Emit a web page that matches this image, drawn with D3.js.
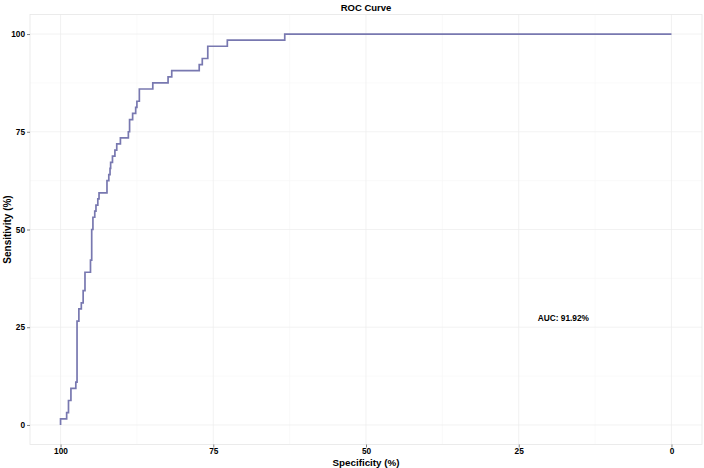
<!DOCTYPE html>
<html>
<head>
<meta charset="utf-8">
<script src="https://cdn.jsdelivr.net/npm/d3@7"></script>
<style>
  body { margin: 0; background: #fff; }
  text { font-family: "Liberation Sans", Arial, sans-serif; font-weight: bold; fill: #000; }
</style>
</head>
<body>
<div id="canvas"></div>
<script>
// roc steps: specificity where sensitivity jumps, and the sensitivity after the jump (%)
var stepSpec = [100, 99.0, 98.7, 98.3, 97.5, 97.3, 97.0, 96.6, 96.3, 96.0,
  95.1, 94.9, 94.7, 94.4, 94.2, 93.9, 93.7, 92.4, 92.1, 91.9,
  91.8, 91.5, 91.1, 90.8, 90.2, 88.9, 88.7, 88.2, 87.7, 87.5,
  87.1, 84.9, 82.4, 81.8, 77.3, 76.8, 75.9, 72.7, 63.3];
var stepSens = [1.56, 3.13, 6.25, 9.38, 10.94, 26.56, 29.69, 31.25, 34.38, 39.06,
  42.19, 50, 53.13, 54.69, 56.25, 57.81, 59.38, 62.5, 64.06, 65.63,
  67.19, 68.75, 70.31, 71.88, 73.44, 75, 78.13, 79.69, 81.25, 82.81,
  85.94, 87.5, 89.06, 90.63, 92.19, 93.75, 96.88, 98.44, 100];
var xTicks = [100, 75, 50, 25, 0];
var yTicks = [0, 25, 50, 75, 100];
var minorTicks = [12.5, 37.5, 62.5, 87.5];
var aucLabel = 'AUC: 91.92%';

var width = 704,
  height = 468,
  panel = { left: 30, right: 702, top: 14.5, bottom: 444.5 },
  line_color = '#7878b0',
  grid_color = '#ececec',
  minor_color = '#f6f6f6';

var svg = d3.select('#canvas').append('svg')
  .attr('width', width)
  .attr('height', height)
  .style('background-color', '#fff');

var x = d3.scaleLinear().domain([105, -5]).range([panel.left, panel.right]);
var y = d3.scaleLinear().domain([-5, 105]).range([panel.bottom, panel.top]);

// grid
var grid = svg.append('g');
minorTicks.forEach(function(t) {
  grid.append('line').attr('x1', x(t)).attr('x2', x(t))
    .attr('y1', panel.top).attr('y2', panel.bottom)
    .attr('stroke', minor_color).attr('stroke-width', 0.6);
  grid.append('line').attr('x1', panel.left).attr('x2', panel.right)
    .attr('y1', y(t)).attr('y2', y(t))
    .attr('stroke', minor_color).attr('stroke-width', 0.6);
});
yTicks.forEach(function(t) {
  grid.append('line').attr('x1', x(t)).attr('x2', x(t))
    .attr('y1', panel.top).attr('y2', panel.bottom)
    .attr('stroke', grid_color).attr('stroke-width', 0.7);
  grid.append('line').attr('x1', panel.left).attr('x2', panel.right)
    .attr('y1', y(t)).attr('y2', y(t))
    .attr('stroke', grid_color).attr('stroke-width', 0.7);
});

svg.append('rect')
  .attr('x', panel.left).attr('y', panel.top)
  .attr('width', panel.right - panel.left)
  .attr('height', panel.bottom - panel.top)
  .attr('fill', 'none')
  .attr('stroke', '#e6e6e6')
  .attr('stroke-width', 0.8);

// axes
var xAxis = d3.axisBottom(x).tickValues(xTicks).tickSize(3).tickPadding(1);
var yAxis = d3.axisLeft(y).tickValues(yTicks).tickSize(3).tickPadding(2);

var gx = svg.append('g')
  .attr('transform', 'translate(0,' + panel.bottom + ')')
  .call(xAxis);
var gy = svg.append('g')
  .attr('transform', 'translate(' + panel.left + ',0)')
  .call(yAxis);
[gx, gy].forEach(function(g) {
  g.select('.domain').remove();
  g.selectAll('.tick line').attr('stroke', '#333').attr('stroke-width', 0.6);
  g.selectAll('.tick text').style('font-size', '8.3px').attr('fill', '#000');
});

// build corner points of the step curve
var pts = [[100, 0]];
var prev = 0;
for (var i = 0; i < stepSpec.length; i++) {
  pts.push([stepSpec[i], prev]);
  pts.push([stepSpec[i], stepSens[i]]);
  prev = stepSens[i];
}
pts.push([0, prev]);

var line = d3.line()
  .x(function(d) { return x(d[0]); })
  .y(function(d) { return y(d[1]); });

svg.append('path')
  .datum(pts)
  .attr('d', line)
  .attr('fill', 'none')
  .attr('stroke', line_color)
  .attr('stroke-width', 1.7);

svg.append('text')
  .attr('x', x(17.7))
  .attr('y', y(27.4))
  .attr('text-anchor', 'middle')
  .attr('dy', '0.35em')
  .style('font-size', '8.3px')
  .text(aucLabel);

// titles
var midX = (panel.left + panel.right) / 2;
svg.append('text')
  .attr('x', midX).attr('y', 11)
  .attr('text-anchor', 'middle')
  .style('font-size', '9.5px')
  .text('ROC Curve');

svg.append('text')
  .attr('x', midX).attr('y', 466)
  .attr('text-anchor', 'middle')
  .style('font-size', '9.8px')
  .text('Specificity (%)');

svg.append('text')
  .attr('transform', 'translate(11,' + ((panel.top + panel.bottom) / 2) + ') rotate(-90)')
  .attr('text-anchor', 'middle')
  .style('font-size', '10px')
  .text('Sensitivity (%)');
</script>
</body>
</html>
